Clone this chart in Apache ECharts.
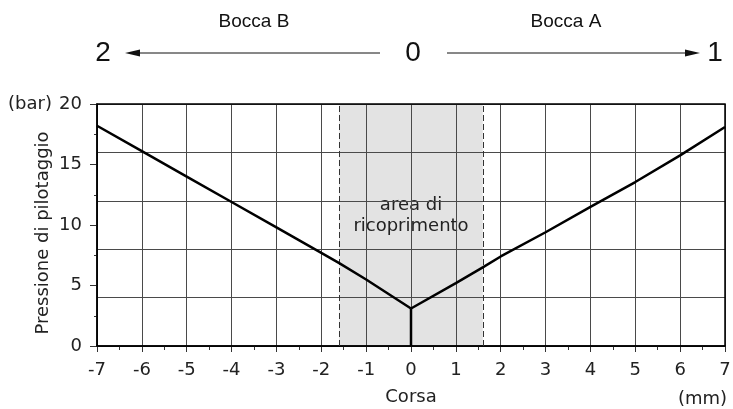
<!DOCTYPE html>
<html>
<head>
<meta charset="utf-8">
<script src="https://cdn.jsdelivr.net/npm/echarts@6/dist/echarts.min.js"></script>
<style>html,body{margin:0;padding:0;background:#fff}#c{width:733px;height:409px}</style>
</head>
<body>
<div id="c"></div>
<script>
// Data
var leftX  = [-7, -6, -5, -4, -3, -2, -1.6, -1, 0];
var leftY  = [18.2, 16.1, 14.0, 11.9, 9.8, 7.7, 6.85, 5.5, 3.1];
var rightX = [0, 1, 1.6, 2, 3, 4, 5, 6, 7];
var rightY = [3.1, 5.2, 6.5, 7.4, 9.4, 11.5, 13.55, 15.75, 18.1];
var stemX = [0, 0];
var stemY = [0, 3.1];
var overlapRange = [-1.6, 1.6];
var xTicks = [-7,-6,-5,-4,-3,-2,-1,0,1,2,3,4,5,6,7];
var yLabelTicks = [0,5,10,15,20];
var yGridTicks = [0,4,8,12,16,20];

function pairs(xs, ys){ return xs.map(function(x,i){ return [x, ys[i]]; }); }

var axisFont = 'DejaVu Sans';
var chart = echarts.init(document.getElementById('c'), null, {renderer:'canvas'});
chart.setOption({
  animation: false,
  backgroundColor: '#fff',
  grid: { left: 97, right: 8, top: 104, bottom: 63, containLabel: false, outerBoundsMode: 'none', show: true, borderColor: '#000', borderWidth: 1.5, backgroundColor: 'transparent', z: 4 },
  xAxis: {
    type: 'value', min: xTicks[0], max: xTicks[xTicks.length-1], interval: 1, z: 3,
    name: 'Corsa', nameLocation: 'middle', nameGap: 42,
    nameTextStyle: { fontFamily: axisFont, fontSize: 18, color: '#222' },
    axisLine: { show: true, onZero: false, lineStyle: { color: '#000', width: 1.5 } },
    axisTick: { show: true, length: 6, lineStyle: { color: '#333', width: 1 } },
    minorTick: { show: true, splitNumber: 2, length: 4, lineStyle: { color: '#333', width: 1 } },
    splitLine: { show: true, lineStyle: { color: '#4a4a4a', width: 1 } },
    axisLabel: { fontFamily: axisFont, fontSize: 18, color: '#222', margin: 15 }
  },
  yAxis: [{
    type: 'value', min: yLabelTicks[0], max: yLabelTicks[yLabelTicks.length-1], interval: 5, z: 3,
    axisLine: { show: true, onZero: false, lineStyle: { color: '#000', width: 1.5 } },
    axisTick: { show: true, length: 7, lineStyle: { color: '#333', width: 1 } },
    minorTick: { show: true, splitNumber: 2, length: 3, lineStyle: { color: '#333', width: 1 } },
    splitLine: { show: false },
    axisLabel: { fontFamily: axisFont, fontSize: 18, color: '#222', margin: 15 }
  }, {
    type: 'value', min: yGridTicks[0], max: yGridTicks[yGridTicks.length-1], interval: 4, position: 'left', z: 3,
    axisLine: { show: false, onZero: false }, axisTick: { show: false }, axisLabel: { show: false },
    splitLine: { show: true, lineStyle: { color: '#4a4a4a', width: 1 } }
  }],
  series: [{
    type: 'line', data: [], z: 1,
    markArea: {
      silent: true,
      itemStyle: { color: '#e3e3e3' },
      label: { show: true, position: 'inside', offset: [0, -9], formatter: 'area di\nricoprimento', fontFamily: axisFont, fontSize: 18, color: '#222', lineHeight: 21 },
      data: [[{ xAxis: overlapRange[0] }, { xAxis: overlapRange[1] }]]
    },
    markLine: {
      silent: true, symbol: 'none', label: { show: false },
      lineStyle: { color: '#333', type: [6, 3], width: 1 },
      data: [{ xAxis: overlapRange[0] }, { xAxis: overlapRange[1] }]
    }
  }, {
    type: 'line', data: pairs(leftX, leftY), showSymbol: false, symbol: 'none', z: 6,
    lineStyle: { color: '#000', width: 2.5 }
  }, {
    type: 'line', data: pairs(rightX, rightY), showSymbol: false, symbol: 'none', z: 6,
    lineStyle: { color: '#000', width: 2.5 }
  }, {
    type: 'line', data: pairs(stemX, stemY), showSymbol: false, symbol: 'none', z: 6,
    lineStyle: { color: '#000', width: 2.5 }
  }],
  graphic: [
    { type: 'text', x: 43, y: 233, rotation: Math.PI / 2, style: { text: 'Pressione di pilotaggio', font: '18px "DejaVu Sans"', fill: '#222', align: 'center', verticalAlign: 'middle' } },
    { type: 'text', left: 8, top: 95, style: { text: '(bar)', font: '18px "DejaVu Sans"', fill: '#222' } },
    { type: 'text', left: 678, top: 390, style: { text: '(mm)', font: '18px "DejaVu Sans"', fill: '#222' } },
    { type: 'text', x: 254, y: 22, style: { text: 'Bocca B', font: '19px "Liberation Sans"', fill: '#111', align: 'center', verticalAlign: 'middle' } },
    { type: 'text', x: 566, y: 22, style: { text: 'Bocca A', font: '19px "Liberation Sans"', fill: '#111', align: 'center', verticalAlign: 'middle' } },
    { type: 'text', x: 103, y: 53, style: { text: '2', font: '28px "Liberation Sans"', fill: '#111', align: 'center', verticalAlign: 'middle' } },
    { type: 'text', x: 413, y: 53, style: { text: '0', font: '28px "Liberation Sans"', fill: '#111', align: 'center', verticalAlign: 'middle' } },
    { type: 'text', x: 715, y: 53, style: { text: '1', font: '28px "Liberation Sans"', fill: '#111', align: 'center', verticalAlign: 'middle' } },
    { type: 'line', shape: { x1: 380, y1: 53, x2: 135, y2: 53 }, style: { stroke: '#111', lineWidth: 1 } },
    { type: 'polygon', shape: { points: [[125, 53], [140, 49.5], [140, 56.5]] }, style: { fill: '#111' } },
    { type: 'line', shape: { x1: 447, y1: 53, x2: 690, y2: 53 }, style: { stroke: '#111', lineWidth: 1 } },
    { type: 'polygon', shape: { points: [[700, 53], [685, 49.5], [685, 56.5]] }, style: { fill: '#111' } }
  ]
});
</script>
</body>
</html>
